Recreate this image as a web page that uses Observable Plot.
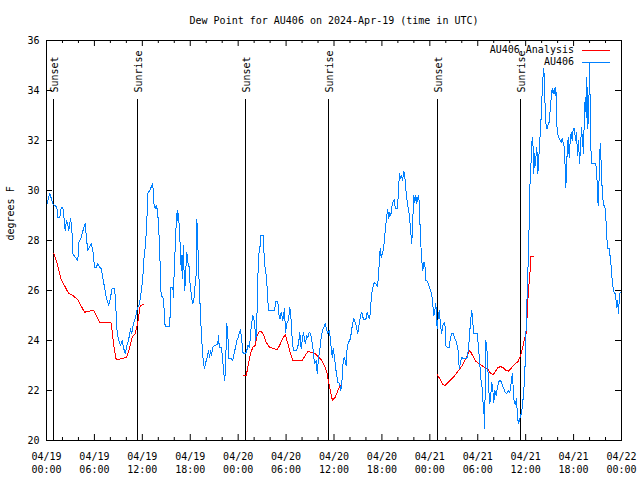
<!DOCTYPE html>
<html><head><meta charset="utf-8">
<script src="https://cdn.jsdelivr.net/npm/d3@7"></script>
<script src="https://cdn.jsdelivr.net/npm/@observablehq/plot@0.6"></script>
<style>
html,body{margin:0;padding:0;background:#fff;}
#chart{width:640px;height:480px;overflow:hidden;}
</style></head><body><div id="chart"></div>
<script>
const chartTitle = "Dew Point for AU406 on 2024-Apr-19 (time in UTC)";
const yLabel = "degrees F";
const seriesNames = ["AU406 Analysis", "AU406"];
const seriesColors = ["#ff0000", "#0080ff"];
const startUTC = Date.UTC(2024, 3, 19);
const xTickHours = [0, 6, 12, 18, 24, 30, 36, 42, 48, 54, 60, 66, 72];
const xMinorHours = [2, 4, 8, 10, 14, 16, 20, 22, 26, 28, 32, 34, 38, 40, 44, 46, 50, 52, 56, 58, 62, 64, 68, 70];
const yTicks = [20, 22, 24, 26, 28, 30, 32, 34, 36];
const sunHours = [0.91, 11.43, 24.96, 35.35, 49.0, 59.35];
const sunLabels = ["Sunset", "Sunrise", "Sunset", "Sunrise", "Sunset", "Sunrise"];

// AU406 observations: [hours since 04/19 00:00 UTC, dew point °F]
const obsPoints = [
[0.09,29.47],[0.25,29.73],[0.41,29.87],[0.59,29.7],[0.79,29.47],[1.00,29.4],[1.29,29.35],[1.42,28.93],[1.67,28.93],[1.84,29.33],[2.04,29.33],[2.17,29.0],[2.34,28.4],[2.50,28.8],[2.67,28.6],[2.79,28.4],[3.01,28.87],[3.17,28.5],[3.29,27.47],[3.59,27.33],[3.92,27.2],[4.04,27.93],[4.35,28.13],[4.63,28.47],[4.85,28.67],[5.01,28.07],[5.17,27.6],[5.38,27.73],[5.60,27.87],[5.80,27.6],[6.01,26.93],[6.22,26.93],[6.42,27.07],[6.64,26.93],[6.85,26.87],[7.05,26.53],[7.26,26.13],[7.48,25.73],[7.68,25.53],[7.80,25.4],[7.98,25.67],[8.23,26.1],[8.52,26.1],[8.64,25.6],[8.85,24.27],[9.05,24.0],[9.27,23.8],[9.48,24.0],[9.68,23.67],[9.85,23.47],[10.06,23.8],[10.27,24.0],[10.52,24.47],[10.68,24.27],[10.89,24.67],[11.11,24.87],[11.36,25.27],[11.65,25.47],
[11.93,26.13],[12.06,26.53],[12.18,27.2],[12.36,27.73],[12.48,28.27],[12.61,29.13],[12.68,29.87],[12.86,29.97],[13.02,30.07],[13.19,30.2],[13.31,30.29],[13.44,29.47],[13.61,29.27],[13.74,29.4],[13.90,29.2],[14.02,28.67],[14.15,27.8],[14.28,26.53],[14.36,25.76],[14.56,25.76],[14.69,25.47],[14.78,24.87],[14.86,24.56],[15.36,24.56],[15.49,25.0],[15.56,26.13],[15.82,26.13],[15.90,25.73],[15.99,26.8],[16.12,27.73],[16.24,28.67],[16.37,29.2],[16.44,28.8],[16.53,29.07],[16.65,28.4],[16.78,27.53],[16.87,26.8],[16.94,27.4],[17.03,26.47],[17.12,27.8],[17.19,27.07],[17.32,26.0],[17.44,26.8],[17.57,27.53],[17.69,27.13],[17.87,26.93],[17.99,26.2],[18.12,25.87],[18.28,25.47],[18.41,25.53],[18.53,25.87],[18.62,26.27],[18.75,26.67],[18.82,28.83],[18.91,28.33],[19.00,27.27],[19.12,26.27],[19.25,25.27],[19.37,24.4],[19.50,23.73],[19.62,23.2],[19.79,22.87],[19.95,23.13],[20.12,23.33],[20.29,23.6],[20.41,23.33],[20.54,23.6],[20.66,23.4],[20.82,23.73],[21.04,23.8],[21.25,23.83],[21.45,23.87],[21.54,24.2],[21.63,23.73],[21.88,23.73],[22.04,23.33],[22.20,22.67],[22.33,22.4],[22.45,23.33],[22.58,24.67],[22.70,24.27],[22.83,23.27],[23.13,23.27],[23.33,23.2],[23.50,23.49],[23.67,23.73],[23.83,24.0],[24.01,24.13],
[24.04,24.2],[24.29,24.43],[24.46,24.0],[24.58,23.53],[24.79,23.47],[25.04,23.53],[25.21,23.8],[25.42,23.73],[25.63,24.53],[25.83,25.0],[26.05,24.73],[26.21,24.0],[26.33,24.67],[26.46,26.53],[26.63,27.6],[26.76,27.8],[26.84,28.2],[27.14,28.2],[27.30,27.07],[27.55,26.53],[27.71,25.6],[27.84,25.2],[28.55,25.2],[28.71,25.56],[28.96,25.56],[29.14,24.93],[29.26,24.87],[29.39,25.13],[29.59,24.8],[29.80,25.27],[29.93,24.33],[30.14,24.73],[30.30,24.8],[30.47,25.33],[30.64,24.8],[30.77,24.0],[30.93,23.6],[31.31,23.6],[31.56,23.87],[31.72,24.33],[31.89,23.67],[32.02,24.0],[32.18,24.33],[32.31,24.0],[32.43,23.87],[32.56,24.2],[32.72,24.13],[32.90,24.33],[33.06,24.27],[33.22,24.0],[33.40,23.6],[33.56,23.07],[33.77,23.2],[33.90,22.67],[34.06,23.33],[34.22,23.6],[34.40,24.13],[34.56,24.4],[34.72,24.53],[34.90,24.69],[35.06,24.47],[35.23,24.27],[35.40,24.4],
[35.53,24.13],[35.65,23.67],[35.78,23.33],[35.90,23.67],[36.06,23.33],[36.19,22.93],[36.35,22.6],[36.48,22.33],[36.69,22.29],[36.85,22.0],[36.98,22.29],[37.10,23.0],[37.28,23.33],[37.40,23.2],[37.53,23.0],[37.65,23.73],[37.82,23.93],[37.98,24.0],[38.15,24.27],[38.32,24.67],[38.48,24.87],[38.66,24.73],[38.82,24.53],[38.98,24.27],[39.16,24.67],[39.32,25.0],[39.48,25.13],[39.61,24.93],[39.78,24.83],[39.98,24.83],[40.16,25.13],[40.32,24.96],[40.48,24.87],[40.61,25.47],[40.73,25.87],[40.91,26.2],[41.07,26.33],[41.24,26.27],[41.41,26.16],[41.57,26.53],[41.70,27.33],[41.79,27.67],[41.91,27.33],[42.04,27.47],[42.20,27.67],[42.32,28.07],[42.45,28.53],[42.61,29.0],[42.74,29.23],[42.86,28.87],[42.99,29.13],[43.11,29.0],[43.24,29.33],[43.36,29.53],[43.54,29.63],[43.66,29.33],[43.79,29.27],[43.95,29.27],[44.08,30.07],[44.20,30.67],[44.33,30.47],[44.45,30.6],[44.58,30.4],[44.74,30.77],[44.87,30.53],[44.99,30.07],[45.17,29.53],[45.33,29.2],[45.45,29.0],[45.54,28.6],[45.67,28.13],[45.74,27.87],[45.83,28.6],[45.92,29.27],[45.99,29.8],[46.12,29.53],[46.24,29.8],[46.37,29.47],[46.49,29.73],[46.62,29.8],[46.74,28.87],[46.87,27.87],[46.99,27.2],[47.12,26.8],[47.25,27.13],[47.37,27.07],[47.50,26.4],[47.67,26.37],[47.83,26.27],[48.00,26.07],[48.17,25.93],[48.30,25.71],
[48.50,25.0],[48.62,25.2],[48.75,25.47],[48.92,24.47],[49.05,24.93],[49.17,25.2],[49.34,24.67],[49.46,24.27],[49.67,24.67],[49.88,24.73],[50.00,23.8],[50.18,23.73],[50.43,23.73],[50.59,24.13],[50.75,24.29],[50.93,24.29],[51.13,24.07],[51.34,23.93],[51.55,23.6],[51.68,22.87],[51.84,23.13],[51.97,23.33],[52.18,23.27],[52.51,23.27],[52.68,23.33],[52.80,23.6],[52.97,24.13],[53.09,24.8],[53.26,25.2],[53.38,24.73],[53.51,24.27],[53.93,24.27],[54.06,23.87],[54.26,23.07],[54.38,22.47],[54.51,22.27],[54.63,21.6],[54.76,21.27],[54.85,20.47],[54.93,22.0],[55.01,24.0],[55.14,23.73],[55.26,22.93],[55.39,22.0],[55.51,21.47],[55.64,21.87],[55.76,22.33],[55.89,22.0],[56.01,21.53],[56.14,22.0],[56.31,21.8],[56.44,22.07],[56.60,22.33],[56.76,22.4],[56.98,22.33],[57.10,22.2],[57.26,22.07],[57.44,21.93],[57.60,21.87],[57.81,22.0],[58.01,21.93],[58.14,22.2],[58.32,22.67],[58.44,22.13],[58.57,21.47],[58.73,21.44],[58.85,21.67],[58.98,20.93],[59.10,20.67],[59.23,20.8],[59.35,21.0],[59.48,21.07],[59.60,21.4],[59.77,22.0],[59.89,22.67],[59.98,23.6],[60.07,24.67],
[60.14,25.33],[60.23,26.4],[60.36,27.47],[60.44,28.73],[60.52,30.13],[60.65,30.93],[60.73,31.6],[60.82,32.13],[60.90,32.13],[60.98,30.67],[61.07,31.47],[61.15,30.93],[61.27,31.27],[61.40,31.73],[61.52,30.67],[61.65,31.33],[61.77,32.0],[61.90,32.67],[62.02,33.6],[62.15,34.47],[62.27,34.87],[62.36,34.27],[62.45,33.2],[62.57,32.53],[62.70,32.47],[62.82,32.67],[62.95,32.73],[63.07,33.2],[63.20,33.73],[63.32,34.07],[63.45,33.87],[63.57,34.07],[63.70,33.8],[63.78,34.13],[63.86,33.33],[63.95,32.27],[64.08,32.2],[64.20,32.07],[64.33,32.0],[64.45,31.93],[64.58,32.07],[64.70,31.93],[64.83,31.73],[64.95,30.93],[65.03,30.13],[65.11,30.67],[65.20,31.6],[65.33,32.13],[65.45,31.33],[65.58,32.0],[65.70,32.33],[65.83,32.0],[65.95,32.47],[66.12,32.47],[66.24,32.0],[66.37,32.33],[66.49,31.4],[66.62,32.0],[66.74,31.07],[66.87,31.73],[66.99,32.53],[67.12,32.0],[67.24,31.47],[67.37,33.33],[67.49,33.73],[67.58,32.93],[67.66,34.53],[67.78,32.47],[67.91,33.33],[67.99,35.07],[68.12,32.8],[68.21,31.07],[68.78,31.07],[68.91,30.67],[69.00,29.73],[69.08,29.4],[69.16,30.13],[69.25,31.07],[69.33,31.87],[69.41,31.47],[69.50,30.53],[69.62,29.87],[69.75,29.4],[69.91,29.4],[70.04,28.93],[70.16,28.13],[70.29,27.67],[70.46,27.67],[70.59,27.33],[70.71,26.93],[70.84,26.4],[70.96,26.07],[71.09,25.9],[71.25,25.87],[71.38,25.33],[71.50,25.6],[71.63,25.07],[71.71,25.6],[71.79,25.87],[71.88,25.93]
];

// AU406 Analysis: three separate runs, [hours, °F]
const anaRun1 = [[0.91,27.49],[1.34,27.07],[1.84,26.43],[2.25,26.2],[2.75,25.89],[3.29,25.8],[3.92,25.63],[4.42,25.33],[4.76,25.13],[5.26,25.17],[5.92,25.2],[6.22,25.0],[6.64,24.73],[7.48,24.73],[8.10,24.7],[8.39,23.87],[8.73,23.23],[9.35,23.27],[10.02,23.33],[10.39,23.67],[10.73,24.13],[11.11,24.27],[11.43,24.73],[11.73,25.4],[12.06,25.43],[12.15,25.43]];
const anaRun2 = [[24.71,22.6],[25.01,22.6],[25.30,23.07],[25.55,23.47],[25.83,23.73],[26.13,23.8],[26.38,24.2],[26.67,24.37],[26.89,24.37],[27.21,24.2],[27.51,23.93],[27.92,23.73],[28.34,23.69],[28.89,23.63],[29.18,23.8],[29.46,24.0],[29.89,24.24],[30.22,23.87],[30.55,23.47],[30.84,23.2],[32.02,23.2],[32.39,23.4],[32.72,23.56],[33.22,23.52],[33.65,23.47],[33.97,23.36],[34.31,23.27],[34.60,23.13],[34.90,22.93],[35.15,22.67],[35.31,22.35],[35.56,21.95],[35.81,21.6],[36.15,21.73],[36.40,21.93],[36.65,22.13],[37.03,22.3]];
const anaRun3 = [[48.92,22.64],[49.25,22.47],[49.55,22.27],[49.88,22.2],[50.18,22.29],[50.50,22.4],[50.84,22.49],[51.13,22.6],[51.43,22.73],[51.75,22.87],[52.09,23.0],[52.38,23.2],[52.68,23.4],[52.93,23.6],[53.13,23.53],[53.43,23.36],[53.76,23.17],[54.06,23.09],[54.35,23.04],[54.68,22.96],[55.01,22.91],[55.31,22.83],[55.60,22.69],[55.94,22.63],[56.22,22.76],[56.51,22.91],[56.85,22.96],[57.19,22.91],[57.51,22.8],[57.85,22.77],[58.14,22.87],[58.44,23.0],[58.77,23.09],[59.07,23.17],[59.27,23.33],[59.48,23.53],[59.69,23.8],[59.86,24.07],[60.02,24.2],[60.14,24.6],[60.23,25.6],[60.36,25.8],[60.44,26.4],[60.57,26.8],[60.65,27.36],[61.02,27.36]];

const toDate = h => new Date(startUTC + h * 3600e3);
const obs = obsPoints.map(([h, v]) => ({t: toDate(h), v}));
const ana = [anaRun1, anaRun2, anaRun3].flatMap((run, i) => run.map(([h, v]) => ({t: toDate(h), v, run: i})));
const xTicks = xTickHours.map(toDate);
const xMinor = xMinorHours.map(toDate);
const sunEvents = sunHours.map((h, i) => ({t: toDate(h), label: sunLabels[i]}));
const mono = "'DejaVu Sans Mono', monospace";

const W = 640, H = 480, mL = 46, mR = 19, mT = 40, mB = 40;
const frameW = W - mL - mR, frameH = H - mT - mB;
const majorLen = 6, minorLen = 3;

function legend(index, scales, values, dims) {
  const g = d3.create("svg:g").attr("font-family", mono).attr("font-size", 10);
  const right = dims.width - dims.marginRight;
  seriesNames.forEach((name, i) => {
    const y = dims.marginTop + 10 + 12 * i;
    g.append("text").attr("x", right - 47).attr("y", y).attr("dy", "0.32em")
      .attr("text-anchor", "end").attr("fill", "black").text(name);
    g.append("line").attr("x1", right - 39).attr("x2", right - 11)
      .attr("y1", y + 0.5).attr("y2", y + 0.5).attr("stroke", seriesColors[i])
      .attr("stroke-width", 1).attr("shape-rendering", "crispEdges");
  });
  return g.node();
}

const chart = Plot.plot({
  width: W, height: H,
  marginLeft: mL, marginRight: mR, marginTop: mT, marginBottom: mB,
  style: {fontFamily: mono, fontSize: "10px", background: "white", color: "black"},
  x: {type: "utc", domain: [toDate(0), toDate(72)]},
  y: {domain: [20, 36]},
  marks: [
    Plot.axisX(xTicks, {tickSize: 0, tickPadding: 10, tickFormat: d3.utcFormat("%m/%d\n%H:%M"), lineHeight: 1.3, fontFamily: mono, fontSize: 10, label: null}),
    Plot.axisY(yTicks, {tickSize: 0, tickPadding: 7, fontFamily: mono, fontSize: 10, label: null}),
    Plot.ruleX(xTicks, {insetTop: frameH - majorLen, stroke: "black"}),
    Plot.ruleX(xTicks, {insetBottom: frameH - majorLen, stroke: "black"}),
    Plot.ruleX(xMinor, {insetTop: frameH - minorLen, stroke: "black"}),
    Plot.ruleX(xMinor, {insetBottom: frameH - minorLen, stroke: "black"}),
    Plot.ruleY(yTicks, {insetRight: frameW - majorLen, stroke: "black"}),
    Plot.ruleY(yTicks, {insetLeft: frameW - majorLen, stroke: "black"}),
    Plot.ruleX(sunEvents, {x: "t", insetTop: 59, stroke: "black", strokeWidth: 1, shapeRendering: "crispEdges"}),
    Plot.text(sunEvents, {x: "t", text: "label", frameAnchor: "top", dy: 52, dx: 1, rotate: -90, textAnchor: "start", lineAnchor: "middle", fontFamily: mono, fontSize: 10, fill: "black"}),
    Plot.line(ana, {x: "t", y: "v", z: "run", stroke: seriesColors[0], strokeWidth: 1, curve: "linear", shapeRendering: "crispEdges"}),
    Plot.line(obs, {x: "t", y: "v", stroke: seriesColors[1], strokeWidth: 1, curve: "linear", shapeRendering: "crispEdges"}),
    Plot.frame({stroke: "black", shapeRendering: "crispEdges"}),
    Plot.text([chartTitle], {frameAnchor: "top", dy: -20, lineAnchor: "middle", fontFamily: mono, fontSize: 10, fill: "black"}),
    Plot.text([yLabel], {frameAnchor: "left", dx: -36, rotate: -90, lineAnchor: "middle", fontFamily: mono, fontSize: 10, fill: "black"}),
    legend
  ]
});
document.getElementById("chart").appendChild(chart);
</script></body></html>
